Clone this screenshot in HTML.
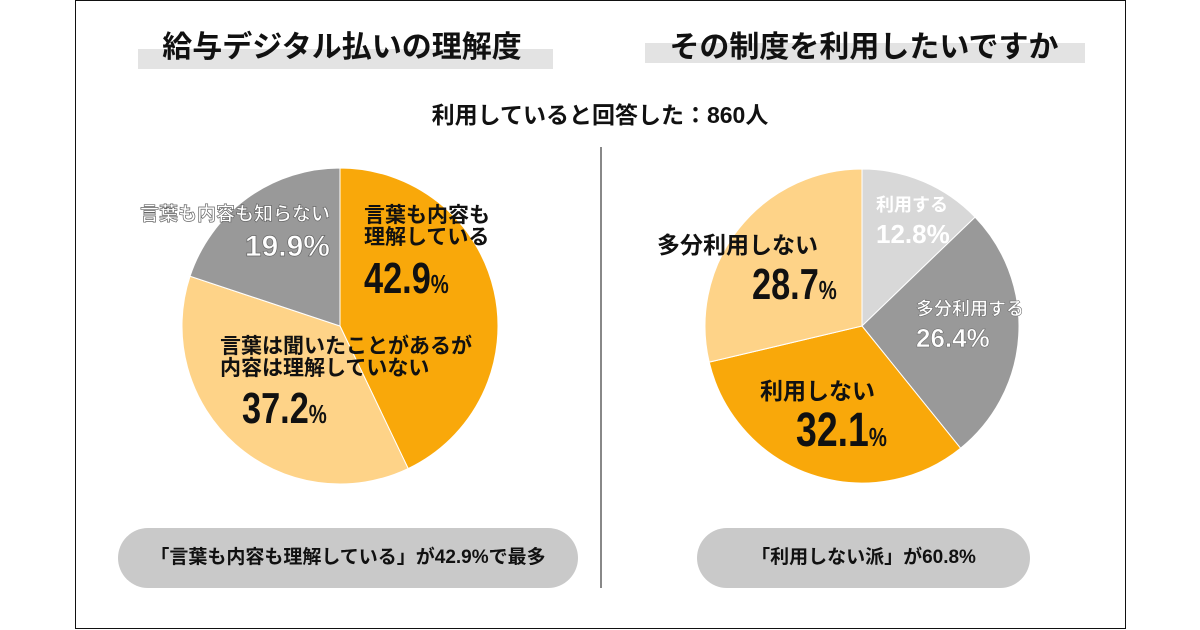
<!DOCTYPE html>
<html><head><meta charset="utf-8">
<style>
body{margin:0;width:1200px;height:630px;background:#fff;overflow:hidden;font-family:"Liberation Sans","Noto Sans CJK JP",sans-serif;}
.abs{position:absolute}
.bar{background:#e3e3e3;height:20px}
.title{font-size:30px;font-weight:bold;color:#111;text-align:center;width:600px;white-space:nowrap}
.lbl{font-weight:bold;white-space:nowrap;line-height:1.05}
.pill{background:#c9c9c9;border-radius:30px;height:60px;line-height:60px;text-align:center;font-size:19px;font-weight:bold;color:#111}
.num{display:inline-block;transform:scaleX(.78);transform-origin:left}
</style></head><body>
<div class="abs" style="left:75px;top:0;width:1049px;height:627px;border:1px solid #111"></div>
<div class="abs bar" style="left:138px;top:49px;width:415px"></div>
<div class="abs bar" style="left:645px;top:43px;width:440px"></div>
<div class="abs title" style="left:42px;top:22px">給与デジタル払いの理解度</div>
<div class="abs title" style="left:564px;top:22px">その制度を利用したいですか</div>
<div class="abs" style="left:300px;width:600px;top:96px;text-align:center;font-size:23px;font-weight:bold;color:#111">利用していると回答した：860人</div>
<div class="abs" style="left:600px;top:147px;width:2px;height:441px;background:#888"></div>
<svg class="abs" style="left:0;top:0" width="1200" height="630">
<g id="left"></g><g id="right"></g>
</svg>
<div class="abs lbl" style="left:100px;top:205px;font-size:19px;color:#fff;-webkit-text-stroke:0.7px #666;text-align:right;width:230px">言葉も内容も知らない<br><span style="font-size:30px;line-height:1.45">19.9%</span></div>
<div class="abs lbl" style="left:364px;top:205px;font-size:21px;color:#111">言葉も内容も<br>理解している<br><span class="num" style="font-size:44px;line-height:1.35">42.9<small style="font-size:26px">%</small></span></div>
<div class="abs lbl" style="left:220px;top:336px;font-size:21px;color:#111">言葉は聞いたことがあるが<br>内容は理解していない<br><span class="num" style="font-size:44px;line-height:1.3;margin-left:22px">37.2<small style="font-size:26px">%</small></span></div>
<div class="abs lbl" style="left:876px;top:196px;font-size:18px;color:#fff">利用する<br><span style="font-size:26px;line-height:1.5">12.8%</span></div>
<div class="abs lbl" style="left:916px;top:300px;font-size:18px;color:#fff;-webkit-text-stroke:0.5px #666">多分利用する<br><span style="font-size:26px;line-height:1.5">26.4%</span></div>
<div class="abs lbl" style="left:657px;top:233px;font-size:23px;color:#111">多分利用しない<br><span class="num" style="font-size:44px;line-height:1.25;margin-left:95px">28.7<small style="font-size:26px">%</small></span></div>
<div class="abs lbl" style="left:760px;top:379px;font-size:23px;color:#111">利用しない<br><span class="num" style="font-size:48px;line-height:1.15;margin-left:36px">32.1<small style="font-size:26px">%</small></span></div>
<div class="abs pill" style="left:118px;top:528px;width:460px">「言葉も内容も理解している」が42.9%で最多</div>
<div class="abs pill" style="left:697px;top:528px;width:333px">「利用しない派」が60.8%</div>
<script>
const leftCategories=["言葉も内容も理解している","言葉は聞いたことがあるが内容は理解していない","言葉も内容も知らない"];
const leftValues=[42.9,37.2,19.9];
const leftColors=["#f9a80a","#fed388","#999999"];
const rightCategories=["利用する","多分利用する","利用しない","多分利用しない"];
const rightValues=[12.8,26.4,32.1,28.7];
const rightColors=["#d8d8d8","#999999","#f9a80a","#fed388"];
function pie(gid,cx,cy,r,vals,cols){
  const g=document.getElementById(gid);
  const tot=vals.reduce((a,b)=>a+b,0);
  let a=-Math.PI/2;
  vals.forEach((v,i)=>{
    const a2=a+v/tot*2*Math.PI;
    const x1=cx+r*Math.cos(a),y1=cy+r*Math.sin(a),x2=cx+r*Math.cos(a2),y2=cy+r*Math.sin(a2);
    const p=document.createElementNS("http://www.w3.org/2000/svg","path");
    p.setAttribute("d",`M${cx},${cy}L${x1},${y1}A${r},${r} 0 ${a2-a>Math.PI?1:0} 1 ${x2},${y2}Z`);
    p.setAttribute("fill",cols[i]);p.setAttribute("stroke","#fff");p.setAttribute("stroke-width","1");
    
    
    g.appendChild(p);a=a2;
  });
}
pie("left",340,326,158,leftValues,leftColors);
pie("right",862,326,157,rightValues,rightColors);
</script>
</body></html>
